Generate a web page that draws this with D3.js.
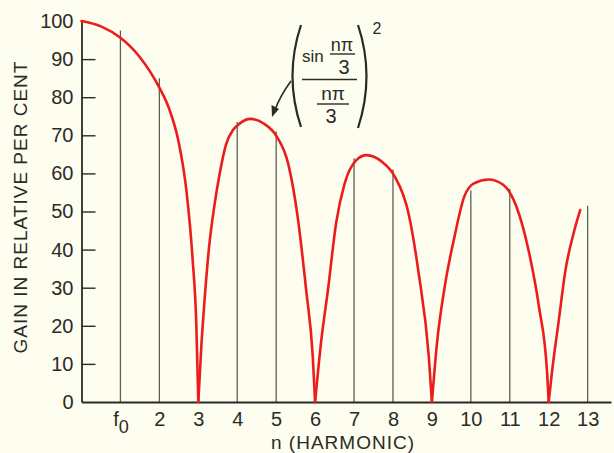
<!DOCTYPE html>
<html><head><meta charset="utf-8">
<script src="https://cdn.jsdelivr.net/npm/d3@7"></script>
<style>
html,body{margin:0;padding:0;background:#fdfdf0;}
svg{display:block;font-family:"Liberation Sans",Arial,sans-serif;}
</style></head><body>
<svg id="c" width="614" height="453"></svg>
<script>
// ---- data ----
const harmonics = [1,2,3,4,5,6,7,8,9,10,11,12,13];
const harmonicGain = [97.5,85,0,73.5,71,0,64,61,0,55.5,56,0,51.5];
const xTickLabels = ["f","2","3","4","5","6","7","8","9","10","11","12","13"];
const yTickValues = [0,10,20,30,40,50,60,70,80,90,100];
const curveN = [0,0.5,1.0,1.5,2.0,2.25,2.5,2.7,2.85,2.95,3,
  3.08,3.17,3.27,3.42,3.55,3.71,3.9,4.05,4.34,4.68,5.02,5.31,5.56,5.77,5.94,6,
  6.16,6.33,6.54,6.76,7.06,7.32,7.71,8.05,8.4,8.66,8.92,9,
  9.13,9.33,9.58,9.83,10.08,10.46,10.83,11.17,11.5,11.75,11.96,12,
  12.08,12.26,12.43,12.64,12.81];
const curveGain = [100,98.6,95.6,90.5,82.5,77,68,55,38,20,0,
  15,28,40,52,60,67.5,71.5,73,74.3,73.1,69.6,62.5,48,29.4,11.9,0,
  16.3,29.4,47,57.4,63.5,64.8,63.1,59.1,49.5,33.8,11.9,0,
  15.4,30.3,43.4,53.9,57.4,58.4,57,51.3,39,25,7.5,0,
  7.5,21.5,34.6,44.3,50.4];
const xTitle = "n (HARMONIC)";
const yTitle = "GAIN IN RELATIVE PER CENT";

// ---- chart ----
const svg = d3.select("#c");
const ink = "#2b2b26";
svg.append("rect").attr("width",614).attr("height",453).attr("fill","#fdfdf0");

const x = d3.scaleLinear().domain([0,13.6]).range([81.5,611]);
const y = d3.scaleLinear().domain([0,100]).range([402,21]);

// harmonic lines
svg.append("g").selectAll("line")
  .data(harmonics.map((n,i)=>({n,g:harmonicGain[i]})).filter(d=>d.g>0))
  .join("line")
  .attr("x1",d=>x(d.n)).attr("x2",d=>x(d.n))
  .attr("y1",y(0)).attr("y2",d=>y(d.g))
  .attr("stroke","#5f5f52").attr("stroke-width",1.3);

// y axis
const yAxis = svg.append("g").attr("transform",`translate(${x(0)},0)`)
  .call(d3.axisLeft(y).tickValues(yTickValues).tickSize(-14).tickSizeOuter(0).tickPadding(8));
yAxis.select(".domain").attr("stroke",ink).attr("stroke-width",1.8);
yAxis.selectAll(".tick line").attr("stroke",ink).attr("stroke-width",1.4)
  .attr("display",d=>(d===0||d===100)?"none":null);
yAxis.selectAll(".tick text").attr("fill",ink).attr("font-size",20).attr("font-family","Liberation Sans, Arial, sans-serif");

// x axis
const xAxis = svg.append("g").attr("transform",`translate(0,${y(0)})`)
  .call(d3.axisBottom(x).tickValues(harmonics).tickSize(0).tickSizeOuter(0).tickPadding(10)
    .tickFormat((d,i)=>xTickLabels[i]));
xAxis.select(".domain").attr("stroke",ink).attr("stroke-width",1.8);
xAxis.selectAll(".tick text").attr("fill",ink).attr("font-size",20).attr("font-family","Liberation Sans, Arial, sans-serif");
xAxis.selectAll(".tick text").filter((d,i)=>i===0).each(function(){
  const t = d3.select(this); t.text(null);
  t.append("tspan").text(xTickLabels[0]);
  t.append("tspan").attr("dy",7).attr("font-size",18).text("0");
});

// titles
svg.append("text").attr("x",343).attr("y",449).attr("text-anchor","middle")
  .attr("font-size",19).attr("letter-spacing",1).attr("fill",ink).text(xTitle);
svg.append("text").attr("transform","translate(27,207) rotate(-90)").attr("text-anchor","middle")
  .attr("font-size",19).attr("letter-spacing",1).attr("fill",ink).text(yTitle);

// curve, drawn arch by arch (cusps at zeros)
const pts = curveN.map((n,i)=>[n,curveGain[i]]);
const arches = []; let cur = [];
pts.forEach((p,i)=>{
  cur.push(p);
  if (p[1]===0 && i>0) { arches.push(cur); cur=[p]; }
});
if (cur.length>1) arches.push(cur);
const line = d3.line().x(d=>x(d[0])).y(d=>y(d[1])).curve(d3.curveMonotoneX);
svg.append("g").selectAll("path").data(arches).join("path")
  .attr("d",line).attr("fill","none").attr("stroke","#ec1c1c")
  .attr("stroke-width",2.6).attr("stroke-linecap","round");

// formula annotation
const f = svg.append("g").attr("fill",ink).attr("font-family","Liberation Sans, Arial, sans-serif");
const paren = (d)=>f.append("path").attr("d",d).attr("fill","none").attr("stroke",ink).attr("stroke-width",2.2);
paren("M301,25 Q284,76 301,127");
paren("M358,25 Q375,76 358,128");
f.append("text").attr("x",377).attr("y",34).attr("font-size",16).attr("text-anchor","middle").text("2");
f.append("text").attr("x",302).attr("y",62).attr("font-size",17).text("sin");
f.append("text").attr("x",342).attr("y",51).attr("font-size",18).attr("text-anchor","middle").text("nπ");
f.append("line").attr("x1",330).attr("x2",355).attr("y1",54).attr("y2",54).attr("stroke",ink).attr("stroke-width",1.4);
f.append("text").attr("x",344).attr("y",74).attr("font-size",20).attr("text-anchor","middle").text("3");
f.append("line").attr("x1",302).attr("x2",357).attr("y1",79.5).attr("y2",79.5).attr("stroke",ink).attr("stroke-width",1.6);
f.append("text").attr("x",333).attr("y",100).attr("font-size",19).attr("text-anchor","middle").text("nπ");
f.append("line").attr("x1",317).attr("x2",349).attr("y1",104).attr("y2",104).attr("stroke",ink).attr("stroke-width",1.4);
f.append("text").attr("x",331).attr("y",123).attr("font-size",20).attr("text-anchor","middle").text("3");
// arrow
f.append("path").attr("d","M291,81 Q280,96 275,110").attr("fill","none").attr("stroke",ink).attr("stroke-width",1.6);
f.append("path").attr("d","M272,117 L271.5,105 L279,109 Z").attr("fill",ink);
</script>
</body></html>
